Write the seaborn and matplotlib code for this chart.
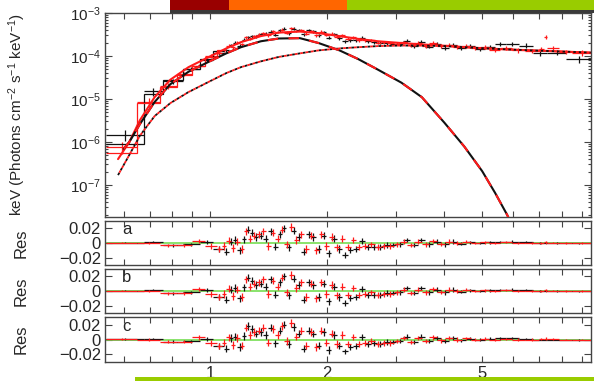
import numpy as np
import matplotlib
matplotlib.use('Agg')
import matplotlib.pyplot as plt
import matplotlib.ticker as mticker
import matplotlib.transforms as mtransforms
from matplotlib.patches import Rectangle
import seaborn as sns

sns.set_style('ticks')
plt.rcParams['font.family'] = ['Liberation Sans', 'DejaVu Sans']
plt.rcParams['mathtext.fontset'] = 'custom'
plt.rcParams['mathtext.rm'] = 'Liberation Sans'
plt.rcParams['mathtext.it'] = 'Liberation Sans:italic'

# ---- model curves (keV vs keV*flux) ----
model_energy = [0.58, 0.62, 0.66, 0.72, 0.79, 0.88, 1.0, 1.1, 1.2, 1.35, 1.5, 1.7, 1.9,
                2.15, 2.4, 2.7, 3.1, 3.5, 4.0, 4.5, 5.0, 5.8, 7.0, 8.0, 9.5]
model_total = [4.0e-7, 1.0e-6, 3.2e-6, 1.1e-5, 2.8e-5, 5.5e-5, 9.8e-5, 1.5e-4, 2.1e-4, 2.9e-4,
               3.5e-4, 3.7e-4, 3.4e-4, 2.9e-4, 2.5e-4, 2.2e-4, 2.0e-4, 1.86e-4, 1.73e-4,
               1.61e-4, 1.52e-4, 1.42e-4, 1.33e-4, 1.27e-4, 1.2e-4]
model_pl = [1.7e-7, 5.0e-7, 1.4e-6, 4.0e-6, 8.0e-6, 1.45e-5, 2.6e-5, 4.0e-5, 5.5e-5, 7.5e-5,
            9.5e-5, 1.15e-4, 1.35e-4, 1.5e-4, 1.6e-4, 1.7e-4, 1.75e-4, 1.74e-4, 1.7e-4,
            1.6e-4, 1.52e-4, 1.42e-4, 1.33e-4, 1.27e-4, 1.2e-4]
bb_energy = [0.60, 0.62, 0.66, 0.72, 0.79, 0.88, 1.0, 1.1, 1.2, 1.35, 1.5, 1.7, 1.9, 2.15,
             2.4, 2.7, 3.1, 3.5, 4.0, 4.5, 5.0, 5.4, 5.8, 6.2]
bb_flux = [7e-7, 1.0e-6, 2.6e-6, 8.5e-6, 2.2e-5, 4.3e-5, 7.6e-5, 1.15e-4, 1.6e-4, 2.2e-4,
           2.55e-4, 2.6e-4, 2.0e-4, 1.35e-4, 8.5e-5, 4.8e-5, 2.4e-5, 1.1e-5, 2.8e-6, 7.8e-7,
           2.1e-7, 6.5e-8, 2e-8, 5e-9]

# ---- detector 1 (black) ----
b_edges = [0.54, 0.675, 0.757, 0.85, 0.94, 1.02, 1.085, 1.115, 1.145, 1.175, 1.205, 1.235,
           1.265, 1.295, 1.33, 1.37, 1.41, 1.45, 1.49, 1.53, 1.57, 1.615, 1.665, 1.715, 1.765,
           1.815, 1.87, 1.93, 1.99, 2.05, 2.115, 2.185, 2.255, 2.33, 2.41, 2.495, 2.585, 2.68,
           2.785, 2.895, 3.01, 3.135, 3.27, 3.415, 3.57, 3.735, 3.91, 4.1, 4.31, 4.54, 4.79,
           5.07, 5.39, 5.75, 6.2, 6.75, 7.35, 8.2, 9.6]
b_flux = [1.45e-6, 1.5e-5, 2.6e-5, 5.0e-5, 8.0e-5, 1.15e-4, 1.35e-4, 1.8e-4, 2.05e-4, 1.75e-4,
          2.4e-4, 2.75e-4, 2.9e-4, 2.9e-4, 3.25e-4, 3.3e-4, 3.7e-4, 3.15e-4, 3.95e-4, 4.3e-4,
          3.35e-4, 4.3e-4, 4.0e-4, 3.2e-4, 3.95e-4, 3.75e-4, 3.05e-4, 3.6e-4, 2.65e-4, 3.2e-4,
          2.6e-4, 2.2e-4, 2.35e-4, 2.35e-4, 2.65e-4, 2.2e-4, 2.1e-4, 2.05e-4, 2.0e-4, 1.95e-4,
          1.9e-4, 2.25e-4, 1.7e-4, 2.15e-4, 1.65e-4, 1.95e-4, 1.55e-4, 1.85e-4, 1.5e-4, 1.7e-4,
          1.45e-4, 1.65e-4, 1.95e-4, 1.9e-4, 1.75e-4, 1.15e-4, 1.2e-4, 8.5e-5]
b_relerr = [0.28, 0.2, 0.15, 0.12, 0.1, 0.09,
            0.09, 0.08, 0.08, 0.08, 0.08, 0.08, 0.08, 0.08, 0.07, 0.07, 0.07, 0.07, 0.07,
            0.07, 0.07, 0.07, 0.07, 0.07, 0.07, 0.07, 0.08, 0.08, 0.08, 0.08, 0.08,
            0.08, 0.08, 0.08, 0.08, 0.08, 0.08, 0.08, 0.08, 0.08, 0.08, 0.08, 0.08, 0.09, 0.09,
            0.09, 0.09, 0.1, 0.1, 0.1, 0.1, 0.11, 0.11, 0.12, 0.12, 0.12, 0.14, 0.2]
b_step = [9e-7, 1.3e-5, 2.7e-5, 5.0e-5, 8.5e-5, 1.3e-4]
b_res = [0.0005, 0.001, -0.003, -0.002, 0.001, -0.008, -0.012, 0.002, 0.004, -0.010,
         0.005, 0.018, 0.014, 0.008, 0.010, 0.006, 0.016, -0.005, 0.012, 0.020, -0.006,
         0.017, 0.008, -0.012, 0.012, 0.008, -0.008, 0.010, -0.014, 0.006, -0.008, -0.016,
         -0.010, -0.008, 0.003, -0.006, -0.005, -0.006, -0.003, -0.003, -0.002, 0.004,
         -0.003, 0.004, -0.002, 0.002, -0.002, 0.002, -0.001, 0.001, 0.0, 0.001, 0.0015,
         0.002, 0.001, 0.0, 0.0, -0.0005]
b_res_err = [0.001, 0.0015, 0.002, 0.002, 0.003, 0.004,
             0.005, 0.005, 0.005, 0.005, 0.005, 0.005, 0.005, 0.005, 0.005, 0.005, 0.005,
             0.005, 0.005, 0.005, 0.005, 0.005, 0.005, 0.005, 0.005, 0.005, 0.005, 0.005,
             0.005, 0.005, 0.005,
             0.004, 0.004, 0.004, 0.004, 0.004, 0.004, 0.004, 0.004, 0.003, 0.003, 0.003,
             0.003, 0.003, 0.003,
             0.003, 0.003, 0.003, 0.002, 0.002, 0.002, 0.002, 0.0015, 0.0015, 0.0015,
             0.001, 0.001, 0.001]

# ---- detector 2 (red) ----
r_edges = [0.54, 0.65, 0.745, 0.82, 0.90, 0.97, 1.04, 1.07, 1.10, 1.13, 1.16, 1.19, 1.22,
           1.25, 1.28, 1.315, 1.35, 1.39, 1.43, 1.47, 1.51, 1.55, 1.595, 1.64, 1.69, 1.74,
           1.79, 1.845, 1.9, 1.96, 2.02, 2.085, 2.15, 2.22, 2.295, 2.375, 2.46, 2.55, 2.645,
           2.745, 2.85, 2.96, 3.08, 3.21, 3.35, 3.5, 3.66, 3.83, 4.01, 4.21, 4.43, 4.67, 4.93,
           5.22, 5.55, 5.95, 6.45, 7.0, 7.2, 7.35, 7.9, 8.5, 9.6]
r_flux = [7.5e-7, 8.5e-6, 2.0e-5, 3.8e-5, 6.0e-5, 1.0e-4, 1.2e-4, 1.35e-4, 1.75e-4, 1.6e-4,
          2.05e-4, 1.9e-4, 2.7e-4, 2.55e-4, 2.9e-4, 3.15e-4, 3.45e-4, 3.0e-4, 3.75e-4,
          3.6e-4, 4.1e-4, 3.5e-4, 4.4e-4, 3.8e-4, 4.05e-4, 3.3e-4, 3.85e-4, 3.05e-4,
          3.7e-4, 3.1e-4, 3.3e-4, 2.8e-4, 3.0e-4, 2.55e-4, 2.75e-4, 2.35e-4, 2.3e-4,
          2.3e-4, 2.05e-4, 2.1e-4, 2.0e-4, 1.95e-4, 2.1e-4, 1.8e-4, 2.05e-4, 1.7e-4,
          2.0e-4, 1.7e-4, 1.85e-4, 1.6e-4, 1.75e-4, 1.5e-4, 1.65e-4, 1.4e-4, 1.55e-4,
          1.35e-4, 1.3e-4, 1.45e-4, 2.8e-4, 1.55e-4, 1.25e-4, 1.2e-4]
r_relerr = [0.3, 0.22, 0.15, 0.12, 0.1, 0.09, 0.09,
            0.09, 0.09, 0.08, 0.08, 0.08, 0.08, 0.08, 0.08, 0.07, 0.07, 0.07, 0.07, 0.07,
            0.07, 0.07, 0.07, 0.07, 0.07, 0.07, 0.07, 0.07, 0.08, 0.08, 0.08, 0.08, 0.08,
            0.08, 0.08, 0.08, 0.08, 0.08, 0.08, 0.08, 0.08, 0.08, 0.08, 0.09, 0.09, 0.09,
            0.09, 0.09,
            0.1, 0.1, 0.1, 0.1, 0.11, 0.11, 0.11, 0.12, 0.12, 0.12, 0.1, 0.12, 0.13, 0.15]
r_step = [5.5e-7, 8e-6, 1.9e-5, 3.6e-5, 6.0e-5, 9.5e-5, 1.35e-4]
r_res = [0.0005, 0.0, -0.003, -0.003, 0.003, -0.004, -0.008, -0.004, 0.003, -0.007,
         0.002, -0.008, 0.016, 0.006, 0.010, 0.012, 0.016, -0.004, 0.014, 0.006, 0.018,
         -0.002, 0.022, 0.004, 0.012, -0.008, 0.010, -0.010, 0.012, -0.004, 0.008, -0.006,
         0.006, -0.006, 0.004, -0.006, -0.004, -0.002, -0.006, -0.004, -0.004, -0.002,
         0.002, -0.003, 0.002, -0.002, 0.003, -0.001, 0.002, 0.0, 0.002, 0.0, 0.001, 0.0,
         0.001, 0.0, 0.0, 0.0005, 0.001, 0.0005, 0.0, 0.0]
r_res_err = [0.001, 0.0015, 0.002, 0.002, 0.003, 0.004, 0.004,
             0.005, 0.005, 0.005, 0.005, 0.005, 0.005, 0.005, 0.005, 0.005, 0.005, 0.005,
             0.005, 0.005, 0.005, 0.005, 0.005, 0.005, 0.005, 0.005, 0.005, 0.005, 0.005,
             0.005, 0.005, 0.005, 0.005,
             0.004, 0.004, 0.004, 0.004, 0.004, 0.004, 0.004, 0.004, 0.003, 0.003, 0.003,
             0.003, 0.003, 0.003, 0.003,
             0.003, 0.003, 0.002, 0.002, 0.002, 0.002, 0.0015, 0.0015, 0.0015, 0.0015,
             0.002, 0.001, 0.001, 0.001]

panel_labels = ['a', 'b', 'c']
band_edges = [0.79, 1.12, 2.25, 9.8]
band_colors = ['#990000', '#ff6600', '#99cc00']
bottom_band = [0.64, 9.8]

BLACK = '#111111'
RED = '#ff1a1a'
GREEN = '#80e060'


def bins(edges):
    e = np.asarray(edges)
    lo, hi = e[:-1], e[1:]
    c = np.sqrt(lo * hi)
    return c, c - lo, hi - c


b_c, b_xl, b_xh = bins(b_edges)
r_c, r_xl, r_xh = bins(r_edges)

fig = plt.figure(figsize=(5.94, 3.81), dpi=100)
ax = fig.add_axes([0.1768, 0.4304, 0.8182, 0.5355])
res_axes = [fig.add_axes([0.1768, 0.3045, 0.8182, 0.1155], sharex=ax),
            fig.add_axes([0.1768, 0.1785, 0.8182, 0.1155], sharex=ax),
            fig.add_axes([0.1768, 0.0499, 0.8182, 0.1180], sharex=ax)]

# main panel: data crosses, low-energy model steps, model components
ax.set_xscale('log')
ax.set_yscale('log')
for c, xl, xh, f, re, col in [(b_c, b_xl, b_xh, b_flux, b_relerr, BLACK),
                              (r_c, r_xl, r_xh, r_flux, r_relerr, RED)]:
    f = np.asarray(f)
    ax.errorbar(c, f, xerr=[xl, xh], yerr=f * np.asarray(re), fmt='none',
                ecolor=col, elinewidth=0.9, capsize=0, zorder=3)
ax.stairs(b_step, b_edges[:len(b_step) + 1], baseline=None, color=BLACK, lw=0.9, zorder=3)
ax.stairs(r_step, r_edges[:len(r_step) + 1], baseline=None, color=RED, lw=0.9, zorder=3)

sns.lineplot(x=model_energy, y=model_total, ax=ax, color=RED, lw=1.5, zorder=4)
sns.lineplot(x=bb_energy, y=bb_flux, ax=ax, color=BLACK, lw=1.5, zorder=4)
sns.lineplot(x=bb_energy, y=bb_flux, ax=ax, color=RED, lw=1.5, zorder=5,
             linestyle=(0, (5, 5)))
sns.lineplot(x=model_energy, y=model_pl, ax=ax, color=BLACK, lw=1.3, zorder=4,
             linestyle=(0, (1.5, 1.5)))
sns.lineplot(x=model_energy, y=model_pl, ax=ax, color=RED, lw=1.3, zorder=5,
             linestyle=(1.5, (1.5, 1.5)))

ax.set_xlim(0.537, 9.52)
ax.set_ylim(1.8e-8, 1e-3)
ax.yaxis.set_major_locator(mticker.LogLocator(base=10, numticks=12))
ax.yaxis.set_minor_locator(mticker.LogLocator(base=10, subs=np.arange(2, 10), numticks=12))
ax.yaxis.set_major_formatter(mticker.LogFormatterMathtext())
ax.yaxis.set_minor_formatter(mticker.NullFormatter())
ax.set_ylabel('keV (Photons cm$^{-2}$ s$^{-1}$ keV$^{-1}$)', fontsize=11)
ax.yaxis.set_label_coords(-0.158, 0.5)

# residual panels
for rax, lab in zip(res_axes, panel_labels):
    rax.axhline(0, color=GREEN, lw=1.3, zorder=1)
    rax.errorbar(b_c, b_res, xerr=[b_xl, b_xh], yerr=b_res_err, fmt='none',
                 ecolor=BLACK, elinewidth=0.9, capsize=0, zorder=3)
    rax.errorbar(r_c, r_res, xerr=[r_xl, r_xh], yerr=r_res_err, fmt='none',
                 ecolor=RED, elinewidth=0.9, capsize=0, zorder=3)
    rax.set_ylim(-0.03, 0.03)
    rax.set_yticks([0.02, 0, -0.02])
    rax.yaxis.set_major_formatter(mticker.FuncFormatter(
        lambda v, p: '0' if abs(v) < 1e-9 else f'{v:.2f}'.replace('-', '\u2212')))
    rax.set_ylabel('Res', fontsize=12)
    rax.yaxis.set_label_coords(-0.158, 0.5)
    rax.text(0.035, 0.80, lab, transform=rax.transAxes, fontsize=12, va='center')

all_axes = [ax] + res_axes
for a in all_axes:
    a.tick_params(which='both', direction='in', top=True, right=True,
                  labelsize=12, width=0.8, color='#444444', pad=3)
    a.tick_params(axis='x', which='both', length=4)
    a.tick_params(axis='y', which='major', length=5)
    a.tick_params(axis='y', which='minor', length=2.5)
    for s in a.spines.values():
        s.set_color('#444444')
        s.set_linewidth(1.0)
ax.tick_params(axis='y', labelsize=11)

ax.xaxis.set_major_locator(mticker.FixedLocator([1, 2, 5]))
ax.xaxis.set_minor_locator(mticker.FixedLocator([0.6, 0.7, 0.8, 0.9, 3, 4, 6, 7, 8, 9]))
ax.xaxis.set_major_formatter(mticker.FuncFormatter(lambda v, p: f'{v:g}'))
ax.xaxis.set_minor_formatter(mticker.NullFormatter())
for a in all_axes[:-1]:
    a.tick_params(axis='x', labelbottom=False)

# energy bands drawn above and below the panels
trans_top = mtransforms.blended_transform_factory(ax.transData, fig.transFigure)
for lo, hi, col in zip(band_edges[:-1], band_edges[1:], band_colors):
    fig.patches.append(Rectangle((lo, 0.9738), hi - lo, 0.0262, transform=trans_top,
                                 facecolor=col, edgecolor='none', figure=fig))
fig.patches.append(Rectangle((band_edges[0], 0.9659), band_edges[-1] - band_edges[0], 0.0079,
                             transform=trans_top, facecolor='#3a3a3a', edgecolor='none',
                             figure=fig))
fig.patches.append(Rectangle((bottom_band[0], 0.0), bottom_band[1] - bottom_band[0], 0.0105,
                             transform=trans_top, facecolor=band_colors[-1],
                             edgecolor='none', figure=fig))

fig.savefig('out.png', dpi=100)
